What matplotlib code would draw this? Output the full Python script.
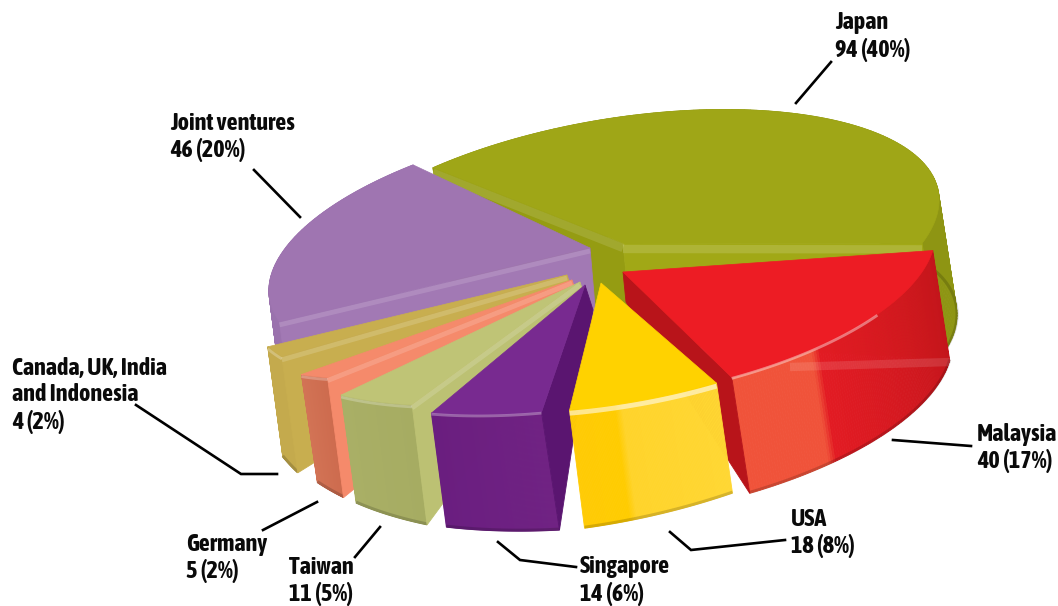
import itertools
import numpy as np
import matplotlib
matplotlib.use("Agg")
import matplotlib.pyplot as plt
from matplotlib.colors import to_rgb

plt.rcParams['font.family'] = ['Asap Condensed', 'Barlow Condensed', 'Liberation Sans', 'DejaVu Sans']

# data, in drawing order round the pie starting from Malaysia
names = ["Malaysia", "USA", "Singapore", "Taiwan", "Germany", "Canada, UK, India\nand Indonesia", "Joint ventures", "Japan"]
values = [40, 18, 14, 11, 5, 4, 46, 94]
shares = [17, 8, 6, 5, 2, 2, 20, 40]

START_ANGLE = -5
total = sum(values)
stops = START_ANGLE + np.cumsum([0] + values) * 360 / total
angle_from = stops[:-1]
angle_to = stops[1:]

# hand-fitted look of each slice: apex, skewed ellipse matrix, extrusion at both rim ends and at apex
apex = [(623, 272), (601, 283), (585, 285), (580, 282), (572, 280), (567, 275), (590, 248), (623, 243)]
shape = [(305, -68, -10, 132), (302, -58, -15, 129), (301, -70, -16, 129), (304, -84, -21, 122),
         (311, -86, -41, 90), (298, -117, 12, 120), (285, -148, 21, 133), (289, -128, 12, 133)]
rim_drop = [((17, 110), (18, 116)), ((16, 110), (15, 118)), ((18, 118), (15, 114)), ((15, 120), (15, 108)),
            ((16, 120), (16, 108)), ((16, 116), (15, 110)), ((15, 115), (15, 115)), ((18, 115), (18, 115))]
apex_drop = [(3, 30), (3, 25), (8, 25), (8, 25), (8, 25), (8, 25), (6, 70), (10, 100)]
tops = ["#ed1c24", "#ffd200", "#782a90", "#bfc476", "#f58a6b", "#c8ae4f", "#9f75b1", "#9fa617"]
faces = ["#b8141a", "#ffcb05", "#5a1570", "#bcc173", "#f58a6b", "#c8ae4f", "#a279b4", "#959c12"]
rims = [
    [(0, "#c3151b"), (.70, "#e21b23"), (.73, "#f0533a"), (1, "#f0533a")],
    [(0, "#ffd733"), (.65, "#ffd42a"), (.7, "#ffcc00"), (1, "#ffcb05")],
    [(0, "#702283"), (1, "#6a1e80")],
    [(0, "#a6ac62"), (1, "#a9af66")],
    [(0, "#cd6b4e"), (1, "#d27355")],
    [(0, "#c4aa4d"), (1, "#c4aa4d")],
    [(0, "#9a72ad"), (1, "#9a72ad")],
    [(0, "#8e9513"), (1, "#8e9513")],
]
# which straight cut sides show: 0 = side at angle_from, 1 = side at angle_to
cut_sides = [[1], [], [0], [0], [0], [0], [0], [0, 1]]
draw_order = [7, 6, 5, 4, 3, 2, 0, 1]

# label text anchor (left, top line centre) and leader lines
label_xy = [(977, 434), (791, 519), (580, 567), (289, 567), (186, 544), (12, 368), (170, 123), (835, 23)]
leaders = [
    [(971, 446), (893, 440)],
    [(785, 540), (691, 550), (670, 532)],
    [(576, 567), (520, 560), (498, 542)],
    [(355, 557), (380, 527)],
    [(263, 530), (317, 502)],
    [(136, 405), (241, 474), (277, 474)],
    [(254, 170), (300, 217)],
    [(831, 62), (796, 103)],
]

# artists go on top of each other in the order they are made
layer = itertools.count(1)


def ring_points(i, angles):
    a, b, c, d = shape[i]
    th = np.radians(angles)
    x = apex[i][0] + a * np.cos(th) + b * np.sin(th)
    y = apex[i][1] + c * np.cos(th) + d * np.sin(th)
    return np.column_stack([x, y])


def mix(stop_list, f):
    fs = [s[0] for s in stop_list]
    rgb = np.array([to_rgb(s[1]) for s in stop_list])
    return tuple(np.interp(f, fs, rgb[:, k]) for k in range(3))


def draw_slice(ax, i):
    angles = np.linspace(angle_from[i], angle_to[i], 121)
    arc = ring_points(i, angles)
    f = np.linspace(0, 1, len(arc))[:, None]
    drop = (1 - f) * np.array(rim_drop[i][0]) + f * np.array(rim_drop[i][1])
    low = arc + drop
    for k in range(len(arc) - 1):
        quad = np.array([arc[k], arc[k + 1], low[k + 1], low[k]])
        col = mix(rims[i], k / (len(arc) - 1))
        ax.fill(quad[:, 0], quad[:, 1], color=col, lw=0.6, zorder=next(layer))
    ax.plot(low[:, 0], low[:, 1] - 1, color="black", alpha=0.16, lw=2.2, solid_capstyle="butt", zorder=next(layer))
    tip = np.array(apex[i], dtype=float)
    for side in cut_sides[i]:
        end = arc[0] if side == 0 else arc[-1]
        end_low = low[0] if side == 0 else low[-1]
        col = faces[i]
        if i == 7 and side == 1:
            col = "#a1a816"
        quad = np.array([tip, end, end_low, tip + np.array(apex_drop[i])])
        ax.fill(quad[:, 0], quad[:, 1], color=col, lw=0.6, zorder=next(layer))
    top = np.vstack([tip, arc])
    ax.fill(top[:, 0], top[:, 1], color=tops[i], lw=0.5, zorder=next(layer))


def light_edge(ax, i, f0, f1, color="white", alpha=0.35, lw=2.5, shift=(0, 0)):
    n = 60
    angles = angle_from[i] + (angle_to[i] - angle_from[i]) * np.linspace(f0, f1, n)
    arc = ring_points(i, angles)
    ax.plot(arc[:, 0] + shift[0], arc[:, 1] + shift[1], color=color, alpha=alpha, lw=lw,
            solid_capstyle="butt", zorder=next(layer))


def light_cut(ax, i, side, alpha=0.25, lw=3.5, shift=(0, 3)):
    end = ring_points(i, np.array([angle_from[i] if side == 0 else angle_to[i]]))[0]
    ax.plot([apex[i][0] + shift[0], end[0] + shift[0]], [apex[i][1] + shift[1], end[1] + shift[1]],
            color="white", alpha=alpha, lw=lw, solid_capstyle="butt", zorder=next(layer))


def main():
    fig = plt.figure(figsize=(10.58, 6.06), dpi=100)
    ax = fig.add_axes([0, 0, 1, 1])
    ax.set_xlim(0, 1058)
    ax.set_ylim(606, 0)
    ax.axis("off")

    for i in draw_order:
        draw_slice(ax, i)
        if i == 7:
            light_cut(ax, 7, 0, alpha=0.12, lw=6, shift=(0, 5))
            light_cut(ax, 7, 1, alpha=0.14, lw=6, shift=(0, 6))
        elif i in (3, 4, 5):
            light_cut(ax, i, 0, alpha=0.16)
            light_edge(ax, i, 0, 1, alpha=0.25, lw=2, shift=(0, 2))
        elif i == 6:
            light_cut(ax, i, 0, alpha=0.14)
        elif i == 2:
            light_edge(ax, i, 0, 1, alpha=0.3, lw=2, shift=(0, 1))
        elif i == 0:
            light_edge(ax, i, 0.45, 1, alpha=0.4, lw=2, shift=(0, 1))
            ax.plot([790, 950], [367, 362], color="white", alpha=0.12, lw=6, solid_capstyle="butt", zorder=next(layer))
        elif i == 1:
            light_edge(ax, i, 0, 1, alpha=0.55, lw=3.5, shift=(0, 3))

    for i in range(len(names)):
        pts = np.array(leaders[i])
        ax.plot(pts[:, 0], pts[:, 1], color="black", lw=1.9, solid_joinstyle="miter", zorder=next(layer))
        x, y = label_xy[i]
        lines = names[i].split("\n") + ["%d (%d%%)" % (values[i], shares[i])]
        for k, line in enumerate(lines):
            ax.text(x, y + k * 26.9, line, fontsize=17.4, fontweight="bold", color="#0a0a0a",
                    ha="left", va="center", zorder=next(layer))

    fig.savefig("out.png", dpi=100)


if __name__ == "__main__":
    main()
